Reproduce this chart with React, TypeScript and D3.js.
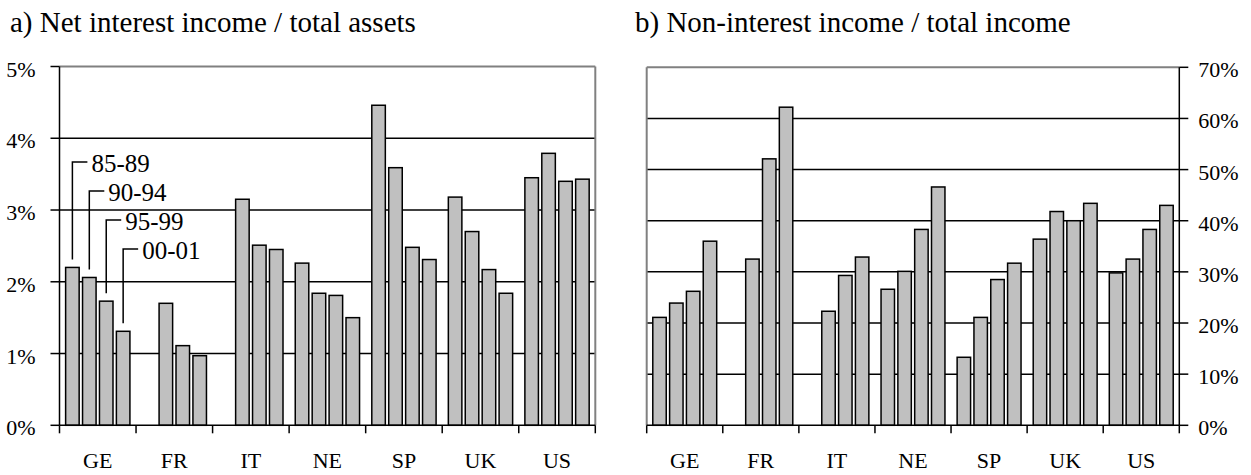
import React from "react";
import * as d3 from "d3";

// ---- data ----
const categories = ["GE", "FR", "IT", "NE", "SP", "UK", "US"];
const periods = ["85-89", "90-94", "95-99", "00-01"];

// a) Net interest income / total assets (%)
const netInterest_85_89: (number | null)[] = [2.2, null, null, 2.26, 4.46, 3.18, 3.45];
const netInterest_90_94: (number | null)[] = [2.06, 1.7, 3.15, 1.84, 3.59, 2.7, 3.79];
const netInterest_95_99: (number | null)[] = [1.73, 1.11, 2.51, 1.81, 2.48, 2.17, 3.4];
const netInterest_00_01: (number | null)[] = [1.31, 0.97, 2.45, 1.5, 2.31, 1.84, 3.43];

// b) Non-interest income / total income (%)
const nonInterest_85_89: (number | null)[] = [21.1, null, null, 26.6, 13.3, 36.4, 29.8];
const nonInterest_90_94: (number | null)[] = [23.9, 32.5, 22.3, 30.1, 21.1, 41.8, 32.5];
const nonInterest_95_99: (number | null)[] = [26.2, 52.1, 29.3, 38.3, 28.5, 40.0, 38.3];
const nonInterest_00_01: (number | null)[] = [36.0, 62.2, 32.9, 46.6, 31.7, 43.4, 43.0];

const ticksA = [0, 1, 2, 3, 4, 5];
const ticksB = [0, 10, 20, 30, 40, 50, 60, 70];

const seriesA = [netInterest_85_89, netInterest_90_94, netInterest_95_99, netInterest_00_01];
const seriesB = [nonInterest_85_89, nonInterest_90_94, nonInterest_95_99, nonInterest_00_01];

// ---- layout ----
const W = 1251;
const H = 475;
const FONT = "'Liberation Serif', 'Times New Roman', serif";
const BAR_FILL = "#c0c0c0";
const FRAME_GRAY = "#808080";
const SW = 1.5;

type PanelProps = {
  x0: number;
  x1: number;
  yTop: number;
  yBottom: number;
  max: number;
  ticks: number[];
  series: (number | null)[][];
  axisSide: "left" | "right";
  title: string;
  titleX: number;
  annotate?: boolean;
};

function Panel(p: PanelProps) {
  const x = d3.scaleBand<string>().domain(categories).range([p.x0, p.x1]).paddingInner(0).paddingOuter(0);
  const cw = x.bandwidth();
  const pad = cw * 0.08;
  const xs = d3.scaleBand<string>().domain(periods).range([pad, cw - pad]).paddingInner(0.2).paddingOuter(0);
  const y = d3.scaleLinear().domain([0, p.max]).range([p.yBottom, p.yTop]);

  const axisX = p.axisSide === "left" ? p.x0 : p.x1;
  const borderX = p.axisSide === "left" ? p.x1 : p.x0;
  const tickDir = p.axisSide === "left" ? -1 : 1;
  const boundaries = categories.map((c) => x(c) as number).concat([p.x1]);

  const LABEL_TOP = 162;
  const LABEL_STEP = 29;

  return (
    <g>
      <text x={p.titleX} y={32} fontSize={29} fontFamily={FONT} fill="#000">
        {p.title}
      </text>
      {/* gridlines (excluding top) */}
      {p.ticks.slice(1, -1).map((t) => (
        <line key={"g" + t} x1={p.x0} x2={p.x1} y1={y(t)} y2={y(t)} stroke="#000" strokeWidth={SW} />
      ))}
      {/* gray frame: top and far side */}
      <line x1={p.x0} x2={p.x1} y1={y(p.max)} y2={y(p.max)} stroke={FRAME_GRAY} strokeWidth={2} />
      <line x1={borderX} x2={borderX} y1={y(p.max)} y2={y(0)} stroke={FRAME_GRAY} strokeWidth={2} />
      {/* bars */}
      {categories.map((c, ci) =>
        p.series.map((s, si) => {
          const v = s[ci];
          if (v == null) return null;
          const bx = (x(c) as number) + (xs(periods[si]) as number);
          return (
            <rect
              key={c + si}
              x={bx}
              y={y(v)}
              width={xs.bandwidth()}
              height={y(0) - y(v)}
              fill={BAR_FILL}
              stroke="#000"
              strokeWidth={SW}
            />
          );
        })
      )}
      {/* value axis */}
      <line x1={axisX} x2={axisX} y1={y(p.max)} y2={y(0)} stroke="#000" strokeWidth={SW} />
      {p.ticks.map((t) => (
        <g key={"t" + t}>
          <line x1={axisX} x2={axisX + tickDir * 9} y1={y(t)} y2={y(t)} stroke="#000" strokeWidth={SW} />
          <text
            x={p.axisSide === "left" ? axisX - 24 : axisX + 19}
            y={y(t) + 10}
            fontSize={22}
            fontFamily={FONT}
            textAnchor={p.axisSide === "left" ? "end" : "start"}
            fill="#000"
          >
            {t + "%"}
          </text>
        </g>
      ))}
      {/* category axis */}
      <line x1={p.x0} x2={p.x1} y1={y(0)} y2={y(0)} stroke="#000" strokeWidth={SW} />
      {boundaries.map((b, i) => (
        <line key={"b" + i} x1={b} x2={b} y1={y(0)} y2={y(0) + 8} stroke="#000" strokeWidth={SW} />
      ))}
      {categories.map((c) => (
        <text
          key={"c" + c}
          x={(x(c) as number) + cw / 2}
          y={468}
          fontSize={22}
          fontFamily={FONT}
          textAnchor="middle"
          fill="#000"
        >
          {c}
        </text>
      ))}
      {/* period annotations on first group */}
      {p.annotate &&
        periods.map((per, si) => {
          const v = p.series[si][0] as number;
          const cx = (x(categories[0]) as number) + (xs(per) as number) + xs.bandwidth() / 2;
          const top = LABEL_TOP + si * LABEL_STEP;
          return (
            <g key={"a" + per}>
              <polyline
                points={`${cx},${y(v) - 8} ${cx},${top} ${cx + 15},${top}`}
                fill="none"
                stroke="#000"
                strokeWidth={SW}
              />
              <text x={cx + 19} y={top + 9.5} fontSize={25} fontFamily={FONT} fill="#000">
                {per}
              </text>
            </g>
          );
        })}
    </g>
  );
}

export default function App() {
  return (
    <svg
      width={W}
      height={H}
      viewBox={`0 0 ${W} ${H}`}
      style={{ position: "absolute", left: 0, top: 0, background: "#fff" }}
    >
      <rect width={W} height={H} fill="#fff" />
      <Panel
        x0={59.5}
        x1={595.3}
        yTop={66.5}
        yBottom={425.3}
        max={5}
        ticks={ticksA}
        series={seriesA}
        axisSide="left"
        title="a) Net interest income / total assets"
        titleX={10}
        annotate
      />
      <Panel
        x0={646.7}
        x1={1179.3}
        yTop={67.3}
        yBottom={425.3}
        max={70}
        ticks={ticksB}
        series={seriesB}
        axisSide="right"
        title="b) Non-interest income / total income"
        titleX={635}
      />
    </svg>
  );
}
